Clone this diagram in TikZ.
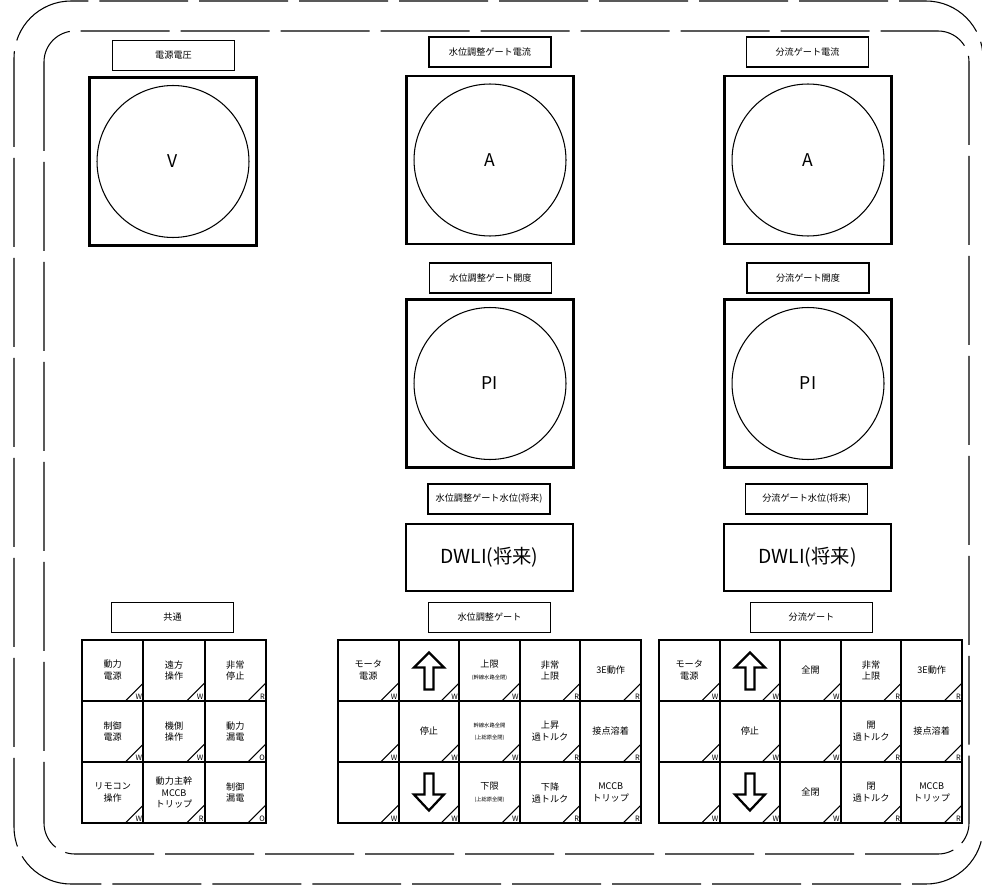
\documentclass[tikz,border=0pt]{standalone}
\usepackage{fontspec}
\setmainfont{Noto Sans CJK JP}
\usepackage{tikz}

\newcommand{\smalltxt}[1]{{\fontsize{3}{4}\selectfont #1}}

\tikzset{
  frame/.style={draw,line width=0.6pt,dash pattern=on 1.78cm off 0.22cm},
  lab/.style={draw,line width=1.1pt,minimum width=2.44cm,minimum height=0.6cm,inner sep=0pt,font=\fontsize{5.2}{6}\selectfont},
  meterbox/.style={draw,line width=1.5pt,minimum width=3.34cm,minimum height=3.36cm,inner sep=0pt},
  dial/.style={circle,draw,line width=0.6pt,minimum size=3.04cm,inner sep=0pt,font=\fontsize{10}{12}\selectfont},
  dwli/.style={draw,line width=1.5pt,minimum width=3.34cm,minimum height=1.34cm,inner sep=0pt,font=\fontsize{11}{13}\selectfont},
  lampmark/.style={draw=none,minimum width=0pt,minimum height=0pt,anchor=south east,inner sep=0.7pt,
    font=\fontsize{4.2}{5}\selectfont},
  cell/.style={draw,line width=1.1pt,minimum width=1.212cm,minimum height=1.22cm,inner sep=0pt,outer sep=0pt,
    align=center,font=\fontsize{5.2}{6.8}\selectfont,
    path picture={
      \draw[line width=0.6pt] ([xshift=-0.36cm]path picture bounding box.south east)
        -- ([yshift=0.36cm]path picture bounding box.south east);
      \node[lampmark] at (path picture bounding box.south east) {#1};
    }},
  cellw/.style={cell=#1,minimum width=1.227cm},
  gridframe/.style={line width=1.5pt},
  blockarr/.style={draw,line width=1.3pt,line join=miter}
}

\begin{document}
\begin{tikzpicture}[x=0.02cm,y=-0.02cm]
\useasboundingbox (0,0) rectangle (982,885);

% frames
\draw[frame,rounded corners=1.14cm] (14,1) rectangle (983,884);
\draw[frame,rounded corners=0.62cm] (44,31) rectangle (969,854);

% meters, left column
\node[lab] (vlab) at (173.5,55.5) {電源電圧};
\node[meterbox] (vbox) at (173,161.5) {};
\node[dial] (vdial) at (vbox) {V};

% meters, water level gate
\node[lab] (alab) at (490,52) {水位調整ゲート電流};
\node[meterbox] (abox) at (490,160) {};
\node[dial] (adial) at (abox) {A};
\node[lab] (pilab) at (490.5,278) {水位調整ゲート開度};
\node[meterbox] (pibox) at (490,383.5) {};
\node[dial] (pidial) at (pibox) {PI};
\node[lab] (dwlab) at (489,499) {水位調整ゲート水位(将来)};
\node[dwli] (dwbox) at (489.5,557.5) {DWLI(将来)};

% meters, diversion gate
\node[lab] (a2lab) at (807.5,52) {分流ゲート電流};
\node[meterbox] (a2box) at (808,160) {};
\node[dial] (a2dial) at (a2box) {A};
\node[lab] (pi2lab) at (808,278) {分流ゲート開度};
\node[meterbox] (pi2box) at (808,383.5) {};
\node[dial] (pi2dial) at (pi2box) {PI};
\node[lab] (dw2lab) at (806.5,499) {分流ゲート水位(将来)};
\node[dwli] (dw2box) at (807.5,557.5) {DWLI(将来)};

% common panel
\node[lab] (cmlab) at (172.5,617.5) {共通};
\node[cellw=W] (cm11) at (112.7,670.5) {動力\\電源};
\node[cellw=W] (cm12) at (174,670.5) {遠方\\操作};
\node[cellw=R] (cm13) at (235.3,670.5) {非常\\停止};
\node[cellw=W] (cm21) at (112.7,731.5) {制御\\電源};
\node[cellw=W] (cm22) at (174,731.5) {機側\\操作};
\node[cellw=O] (cm23) at (235.3,731.5) {動力\\漏電};
\node[cellw=W] (cm31) at (112.7,792.5) {リモコン\\操作};
\node[cellw=R] (cm32) at (174,792.5) {動力主幹\\MCCB\\トリップ};
\node[cellw=O] (cm33) at (235.3,792.5) {制御\\漏電};
\draw[gridframe] (cm11.north west) rectangle (cm33.south east);

% water level gate panel
\node[lab] (wllab) at (489.5,617.5) {水位調整ゲート};
\node[cell=W] (wl11) at (368.3,670.5) {モータ\\電源};
\node[cell=W] (wl12) at (428.9,670.5) {};
\node[cell=W] (wl13) at (489.5,670.5) {上限\\\smalltxt{(幹線水路全閉)}};
\node[cell=R] (wl14) at (550.1,670.5) {非常\\上限};
\node[cell=R] (wl15) at (610.7,670.5) {3E動作};
\node[cell=W] (wl21) at (368.3,731.5) {};
\node[cell=W] (wl22) at (428.9,731.5) {停止};
\node[cell=W] (wl23) at (489.5,731.5) {\smalltxt{幹線水路全開}\\\smalltxt{(上総原全閉)}};
\node[cell=R] (wl24) at (550.1,731.5) {上昇\\過トルク};
\node[cell=R] (wl25) at (610.7,731.5) {接点溶着};
\node[cell=W] (wl31) at (368.3,792.5) {};
\node[cell=W] (wl32) at (428.9,792.5) {};
\node[cell=W] (wl33) at (489.5,792.5) {下限\\\smalltxt{(上総原全開)}};
\node[cell=R] (wl34) at (550.1,792.5) {下降\\過トルク};
\node[cell=R] (wl35) at (610.7,792.5) {MCCB\\トリップ};
\draw[gridframe] (wl11.north west) rectangle (wl35.south east);
\draw[blockarr] (wl12.center) ++(0,-18) -- ++(15,15) -- ++(-10.5,0) -- ++(0,22)
  -- ++(-9,0) -- ++(0,-22) -- ++(-10.5,0) -- cycle;
\draw[blockarr] (wl32.center) ++(0,18) -- ++(15,-16) -- ++(-10.5,0) -- ++(0,-21)
  -- ++(-9,0) -- ++(0,21) -- ++(-10.5,0) -- cycle;

% diversion gate panel
\node[lab] (dvlab) at (811.5,617.5) {分流ゲート};
\node[cell=W] (dv11) at (689.3,670.5) {モータ\\電源};
\node[cell=W] (dv12) at (749.9,670.5) {};
\node[cell=W] (dv13) at (810.5,670.5) {全開};
\node[cell=R] (dv14) at (871.1,670.5) {非常\\上限};
\node[cell=R] (dv15) at (931.7,670.5) {3E動作};
\node[cell=W] (dv21) at (689.3,731.5) {};
\node[cell=W] (dv22) at (749.9,731.5) {停止};
\node[cell=W] (dv23) at (810.5,731.5) {};
\node[cell=R] (dv24) at (871.1,731.5) {開\\過トルク};
\node[cell=R] (dv25) at (931.7,731.5) {接点溶着};
\node[cell=W] (dv31) at (689.3,792.5) {};
\node[cell=W] (dv32) at (749.9,792.5) {};
\node[cell=W] (dv33) at (810.5,792.5) {全閉};
\node[cell=R] (dv34) at (871.1,792.5) {閉\\過トルク};
\node[cell=R] (dv35) at (931.7,792.5) {MCCB\\トリップ};
\draw[gridframe] (dv11.north west) rectangle (dv35.south east);
\draw[blockarr] (dv12.center) ++(0,-18) -- ++(15,15) -- ++(-10.5,0) -- ++(0,22)
  -- ++(-9,0) -- ++(0,-22) -- ++(-10.5,0) -- cycle;
\draw[blockarr] (dv32.center) ++(0,18) -- ++(15,-16) -- ++(-10.5,0) -- ++(0,-21)
  -- ++(-9,0) -- ++(0,21) -- ++(-10.5,0) -- cycle;
\end{tikzpicture}
\end{document}
